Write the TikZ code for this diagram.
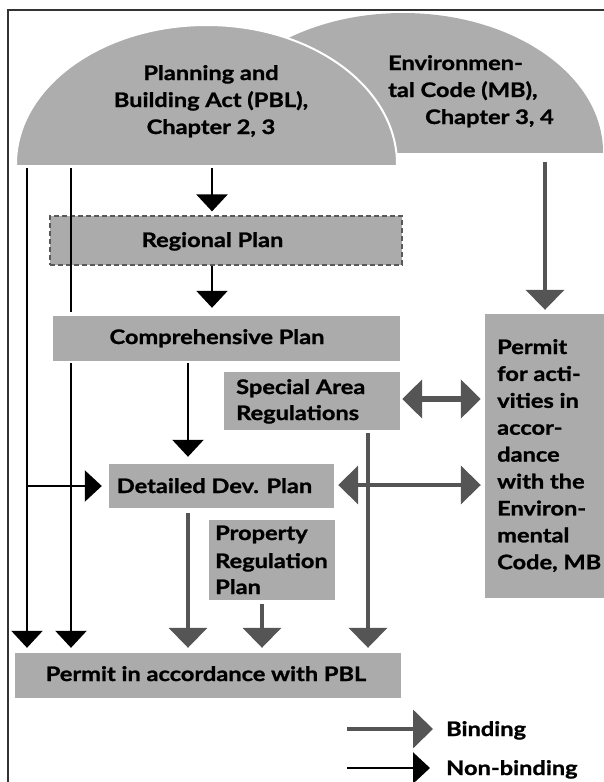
\documentclass[tikz,border=0pt]{standalone}
\usepackage{fontspec}
\setmainfont{Lato}[FakeStretch=1.18, BoldFeatures={FakeBold=1.2}]
\usetikzlibrary{arrows.meta}
\definecolor{boxgray}{HTML}{ABABAB}
\definecolor{domegray}{HTML}{ADADAD}
\definecolor{bindgray}{HTML}{555555}
\definecolor{framegray}{HTML}{333333}
\begin{document}
\begin{tikzpicture}[x=1pt,y=-1pt,
  box/.style={fill=boxgray, draw=none, inner sep=0pt},
  lbl/.style={font=\bfseries\fontsize{20}{27}\selectfont, inner sep=0pt, text=black},
  nb/.style={draw=black, line width=2.5pt, -{Triangle[width=31pt,length=17pt]}},
  nbs/.style={draw=black, line width=2.5pt},
  bd/.style={draw=bindgray, line width=4pt, -{Triangle[width=38pt,length=20pt]}},
  bdd/.style={draw=bindgray, line width=#1, {Triangle[width=38pt,length=20pt]}-{Triangle[width=38pt,length=20pt]}}
]
\useasboundingbox (0,0) rectangle (603,782);
% frame
\draw[framegray, line width=2pt] (8,783) -- (8,10) -- (604,10);
% domes
\begin{scope}
  \clip (0,0) rectangle (610,152);
  \fill[domegray] (403,152) ellipse [x radius=200pt, y radius=139pt];
\end{scope}
\begin{scope}
  \clip (0,0) rectangle (610,164);
  \filldraw[fill=domegray, draw=white, line width=2pt] (206.5,164) ellipse [x radius=190.5pt, y radius=139pt];
\end{scope}
\node[lbl, anchor=base] (pbl1) at (211,80) {Planning and};
\node[lbl, anchor=base] (pbl2) at (211,107) {Building Act (PBL),};
\node[lbl, anchor=base] (pbl3) at (211,134) {Chapter 2, 3};
\node[lbl, anchor=base west] (mb1) at (388,70) {Environmen-};
\node[lbl, anchor=base west] (mb2) at (388,97) {tal Code (MB),};
\node[lbl, anchor=base west] (mb3) at (425,124) {Chapter 3, 4};
% start coordinates
\coordinate (s1) at (27,168);
\coordinate (s2) at (71,168);
\coordinate (s3) at (212,168);
\coordinate (s4) at (545,162);
\coordinate (xc) at (188,0);
\coordinate (xs) at (368,0);
\coordinate (xp) at (262,0);
% boxes
\node[box, draw=gray!70!black, dash pattern=on 5pt off 3pt, line width=1.2pt, minimum width=352pt, minimum height=49pt] (reg) at (226,240.5) {};
\node[box, minimum width=347pt, minimum height=45pt] (comp) at (226.5,338.5) {};
\node[box, minimum width=176pt, minimum height=58pt] (spec) at (312,401) {};
\node[box, minimum width=225pt, minimum height=44pt] (det) at (221.5,486) {};
\node[box, minimum width=126pt, minimum height=80pt] (prop) at (272,560) {};
\node[box, minimum width=386pt, minimum height=45pt] (ppbl) at (208,675.5) {};
\node[box, minimum width=130pt, minimum height=284pt] (pmb) at (550,456) {};
% box texts
\node[lbl, anchor=base] (treg) at (212.5,247) {Regional Plan};
\node[lbl, anchor=base] (tcomp) at (217,344) {Comprehensive Plan};
\node[lbl, anchor=base] (tdet) at (214.5,493) {Detailed Dev. Plan};
\node[lbl, anchor=base] (tppbl) at (206,681) {Permit in accordance with PBL};
\node[lbl, anchor=base west] (tspec1) at (236,394) {Special Area};
\node[lbl, anchor=base west] (tspec2) at (236,420) {Regulations};
\node[lbl, anchor=base west] (tprop1) at (215,540) {Property};
\node[lbl, anchor=base west] (tprop2) at (215,568) {Regulation};
\node[lbl, anchor=base west] (tprop3) at (215,594) {Plan};
\foreach \t [count=\i] in {Permit, for acti-, vities in, accor-, dance, with the, Environ-, mental, {Code, MB}}
  \node[lbl, anchor=base west] (tpmb\i) at (497,354+26.9*\i-26.9) {\t};
% non-binding connectors
\draw[nb, shorten >=5pt] (s1) -- (s1 |- ppbl.north);
\draw[nbs, shorten >=4pt] (s2) -- (s2 |- comp.north);
\draw[nb, shorten <=2pt, shorten >=5pt] (s2 |- comp.south) -- (s2 |- ppbl.north);
\draw[nb, shorten >=7pt] (s1 |- det.west) -- (det.west);
\draw[nb, shorten >=4pt] (s3) -- (s3 |- reg.north);
\draw[nb, shorten >=8pt] (s3 |- reg.south) -- (s3 |- comp.north);
\draw[nb, shorten <=2pt, shorten >=7pt] (xc |- comp.south) -- (xc |- det.north);
% binding connectors
\draw[bd, shorten >=4pt] (s4) -- (s4 |- pmb.north);
\draw[bd, shorten <=5pt, shorten >=5pt] (xc |- det.south) -- (xc |- ppbl.north);
\draw[bd, shorten <=3pt, shorten >=5pt] (xs |- spec.south) -- (xs |- ppbl.north);
\draw[bd, shorten <=4pt, shorten >=5pt] (xp |- prop.south) -- (xp |- ppbl.north);
\draw[bdd=6pt, shorten <=2pt, shorten >=4pt] ([yshift=2pt]spec.east) -- ([yshift=2pt]spec.east -| pmb.west);
\draw[bdd=4pt, shorten <=4pt, shorten >=4pt] ([yshift=1pt]det.east) -- ([yshift=1pt]det.east -| pmb.west);
% legend
\node[lbl, anchor=base west] (lgB) at (446,736) {Binding};
\node[lbl, anchor=base west] (lgN) at (446,775) {Non-binding};
\coordinate (lb1) at (347,729);
\coordinate (lb2) at (347,768);
\draw[bd, shorten >=13pt] (lb1) -- (lb1 -| lgB.west);
\draw[nb, shorten >=16pt] (lb2) -- (lb2 -| lgN.west);
\end{tikzpicture}
\end{document}
